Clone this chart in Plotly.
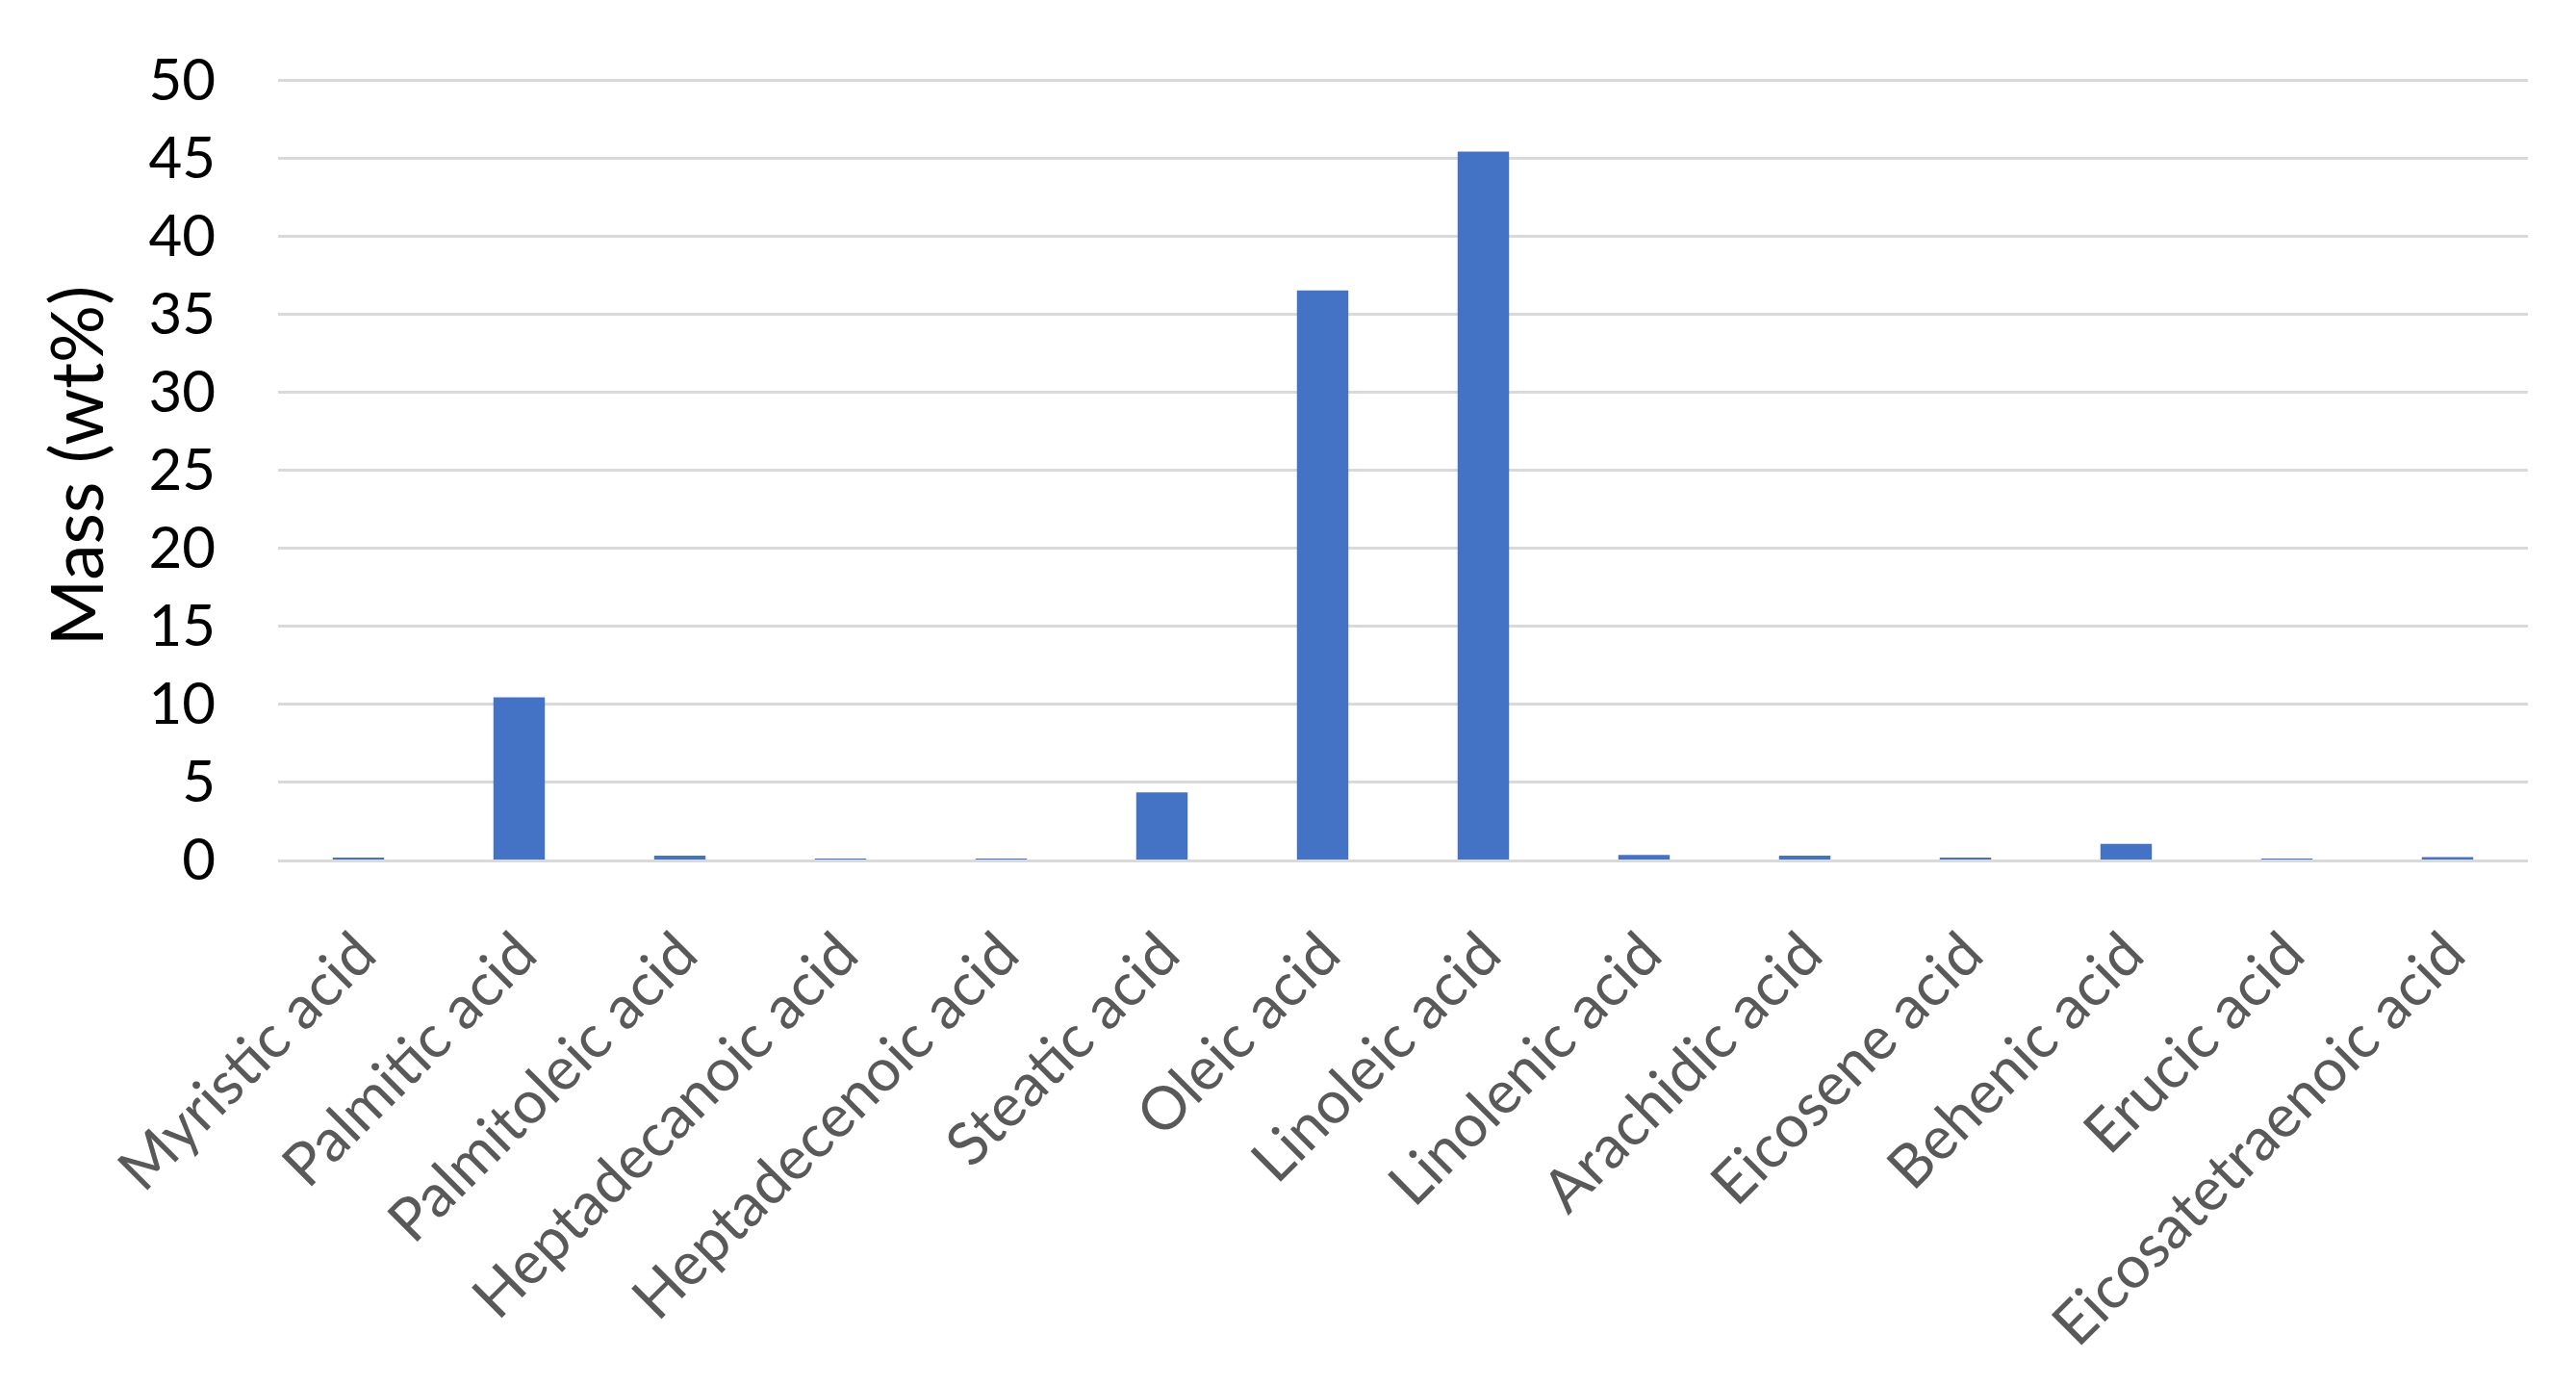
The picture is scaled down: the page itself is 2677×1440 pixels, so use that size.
import plotly.graph_objects as go

# ── Data ─────────────────────────────────────────────
acids = [
    "Myristic acid", "Palmitic acid", "Palmitoleic acid", "Heptadecanoic acid",
    "Heptadecenoic acid", "Steatic acid", "Oleic acid", "Linoleic acid",
    "Linolenic acid", "Arachidic acid", "Eicosene acid", "Behenic acid",
    "Erucic acid", "Eicosatetraenoic acid",
]
mass_wt = [0.1, 10.4, 0.25, 0.03, 0.02, 4.3, 36.5, 45.4, 0.3, 0.25, 0.08, 1.0, 0.02, 0.15]
y_ticks = [0, 5, 10, 15, 20, 25, 30, 35, 40, 45, 50]

FONT = "Lato, Open Sans, sans-serif"

# ── Figure ───────────────────────────────────────────
fig = go.Figure(
    go.Bar(x=acids, y=mass_wt, marker_color="#4472C4", marker_line_width=0)
)

fig.update_layout(
    width=2677,
    height=1440,
    paper_bgcolor="white",
    plot_bgcolor="white",
    margin=dict(l=281, r=58, t=67, b=555),
    bargap=0.68,
    showlegend=False,
    font=dict(family=FONT, color="black"),
)

# a little headroom above 50 so its gridline is drawn
fig.update_yaxes(
    range=[0, 50.5],
    tickvals=y_ticks,
    showgrid=True,
    gridcolor="#d9d9d9",
    gridwidth=3,
    zeroline=False,
    showline=False,
    tickfont=dict(size=60, color="black"),
    ticklabelstandoff=64,
    title=dict(text="Mass (wt%)", font=dict(size=75, color="black"), standoff=22),
)

fig.update_xaxes(
    tickangle=-45,
    tickfont=dict(size=62, color="#595959"),
    showline=True,
    linecolor="#d9d9d9",
    linewidth=3,
    ticklabelstandoff=34,
)

fig.write_html("out.html")
